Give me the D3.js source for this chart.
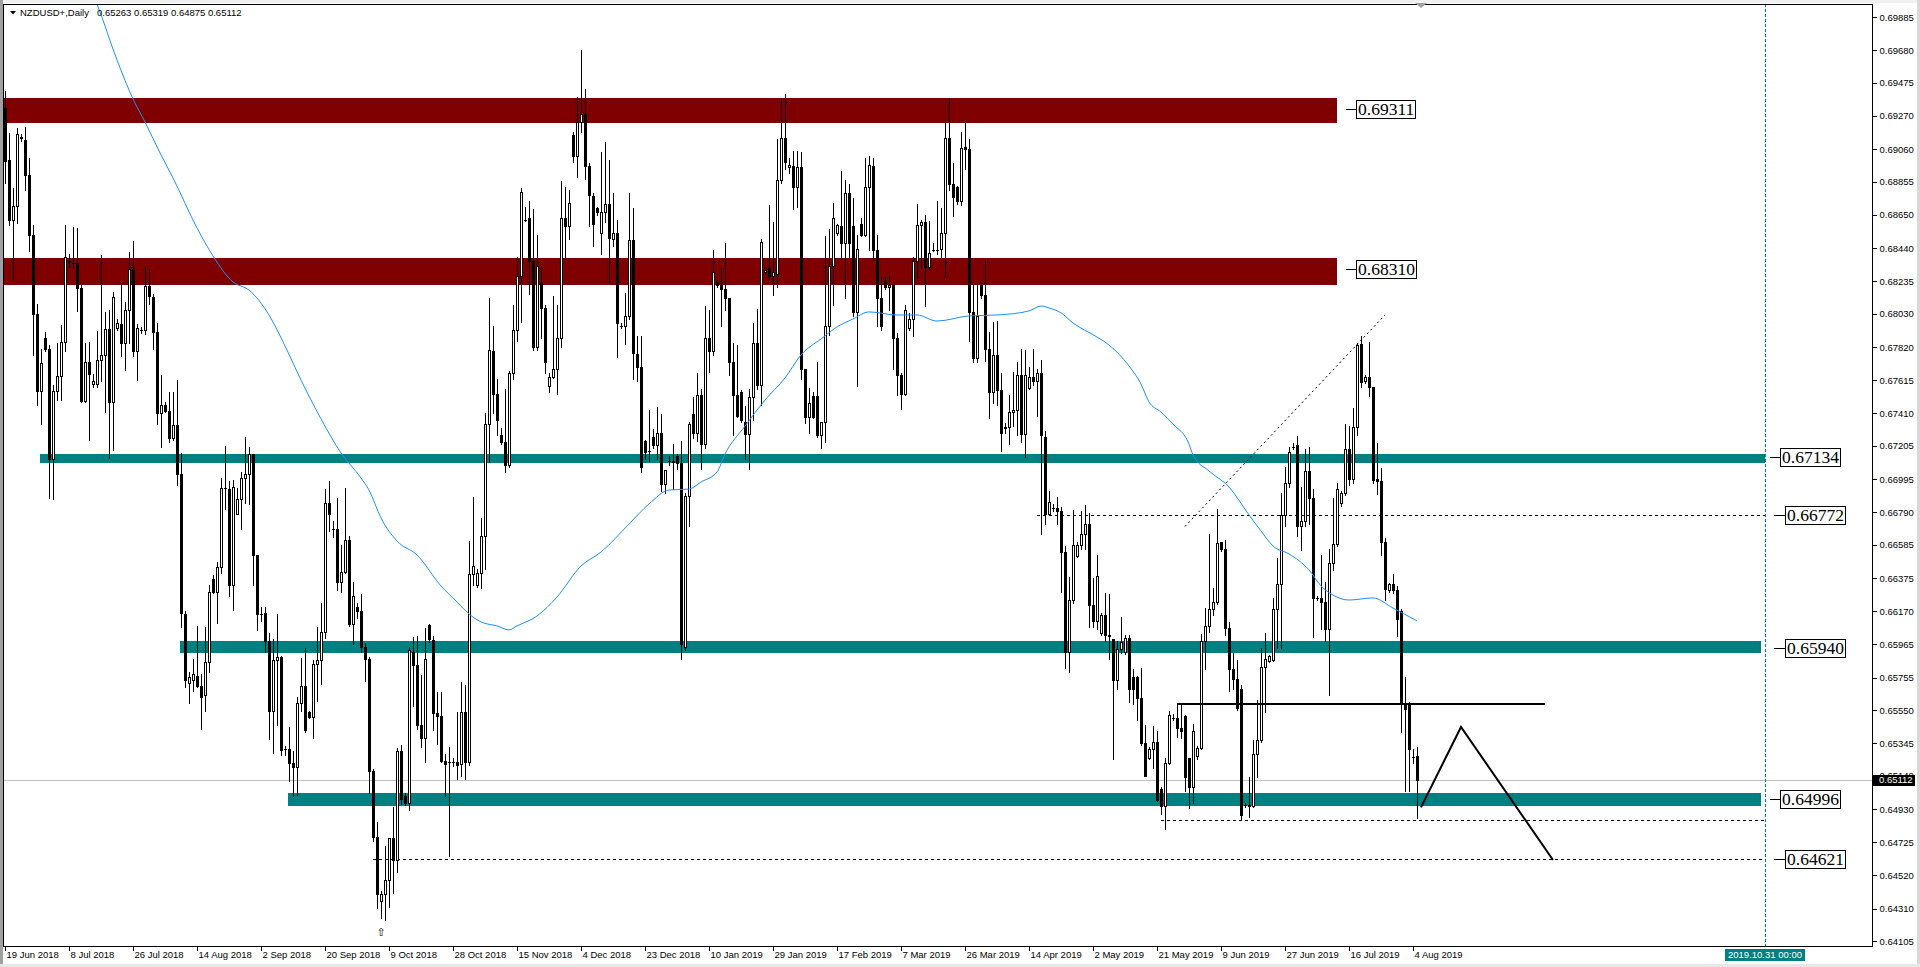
<!DOCTYPE html>
<html><head><meta charset="utf-8">
<script src="https://cdn.jsdelivr.net/npm/d3@7"></script>
<style>
html,body{margin:0;padding:0;background:#fff;overflow:hidden}
svg{display:block}
text{font-family:"Liberation Sans",Arial,sans-serif}
</style></head><body>
<svg id="chart" width="1920" height="967"></svg>
<script>
// ===== DATA =====
const symbolTitle = "NZDUSD+,Daily";
const lastOHLC = [0.65263, 0.65319, 0.64875, 0.65112];

const opens = [
0.69318,0.68993,0.68618,0.68705,0.69134,0.69120,0.68898,0.68523,0.68031,0.67547,0.67881,0.67810,
0.67119,0.67547,0.67642,0.67856,0.68360,0.68345,0.68347,0.68189,0.67487,0.67730,0.67589,0.67589,
0.67740,0.67775,0.67933,0.67477,0.67940,0.67968,0.67845,0.68056,0.68312,0.67800,0.67926,0.67926,
0.68207,0.68137,0.67916,0.67407,0.67459,0.67424,0.67256,0.67336,0.67027,0.66150,0.65722,0.65740,
0.65764,0.65704,0.65645,0.65855,0.66371,0.66291,0.66449,0.66943,0.66933,0.66336,0.66775,0.66873,
0.67003,0.67027,0.67154,0.66522,0.66150,0.66161,0.65985,0.65546,0.65862,0.65883,0.65308,0.65308,
0.65223,0.65195,0.65599,0.65704,0.65539,0.65511,0.65841,0.65862,0.66038,0.66845,0.66687,0.66687,
0.66354,0.66417,0.66617,0.66091,0.66196,0.66173,0.65945,0.65868,0.65173,0.64758,0.64359,0.64401,
0.64488,0.64752,0.64611,0.65296,0.65015,0.64969,0.65917,0.65833,0.65461,0.65376,0.66085,0.65987,
0.65531,0.65517,0.65236,0.65225,0.65225,0.65225,0.65215,0.65541,0.65225,0.66401,0.66331,0.66408,
0.66640,0.67342,0.67798,0.67531,0.67272,0.67226,0.67086,0.67658,0.67928,0.68269,0.68620,0.68630,
0.68360,0.67823,0.68226,0.68069,0.67577,0.67637,0.67682,0.67882,0.68630,0.68577,0.69146,0.69016,
0.69227,0.69280,0.68957,0.68764,0.68690,0.68535,0.68665,0.68718,0.68500,0.68535,0.67953,0.67953,
0.68016,0.68490,0.67777,0.67700,0.67237,0.67174,0.67261,0.67209,0.67286,0.66963,0.67110,0.67110,
0.67138,0.67096,0.65945,0.66893,0.67402,0.67286,0.67525,0.67216,0.67876,0.67798,0.68227,0.68209,
0.68184,0.68128,0.67728,0.67525,0.67542,0.67356,0.67279,0.67507,0.67848,0.67588,0.68290,0.68314,
0.68269,0.68279,0.68865,0.69132,0.68946,0.68957,0.68823,0.68946,0.67682,0.67384,0.67517,0.67517,
0.67272,0.67356,0.67953,0.68332,0.68535,0.68577,0.68472,0.68788,0.68577,0.68044,0.68595,0.68525,
0.68823,0.68957,0.68430,0.68128,0.68234,0.68198,0.68209,0.67882,0.67647,0.67531,0.67939,0.67998,
0.68360,0.68585,0.68606,0.68325,0.68430,0.68430,0.68437,0.68535,0.69132,0.68841,0.68823,0.68735,
0.69076,0.69062,0.68044,0.67753,0.68209,0.68149,0.67812,0.67542,0.67770,0.67553,0.67321,0.67321,
0.67419,0.67426,0.67647,0.67279,0.67567,0.67637,0.67612,0.67658,0.67261,0.66780,0.66816,0.66816,
0.66795,0.66542,0.65917,0.66243,0.66515,0.66582,0.66651,0.66713,0.66206,0.66107,0.66033,0.66144,
0.66020,0.65995,0.65741,0.65934,0.65914,0.66003,0.65761,0.65761,0.65625,0.65345,0.65254,0.65310,
0.65352,0.65056,0.64949,0.65221,0.65501,0.65501,0.65439,0.65513,0.65254,0.65073,0.65266,0.65315,
0.65983,0.66077,0.66186,0.66230,0.66601,0.66557,0.66062,0.65810,0.65748,0.65686,0.64957,0.64949,
0.64949,0.65278,0.65365,0.65822,0.65859,0.65864,0.66181,0.66342,0.66774,0.66972,0.67200,0.67207,
0.66700,0.66737,0.67046,0.66878,0.66255,0.66255,0.66230,0.66057,0.66473,0.66589,0.66844,0.66910,
0.67183,0.66997,0.67323,0.67843,0.67610,0.67635,0.67571,0.66997,0.66985,0.66606,0.66300,0.66342,
0.66300,0.66169,0.65588,0.65593,0.65261,0.65263];

const highs = [
0.69425,0.69162,0.68818,0.69190,0.69155,0.69197,0.69004,0.68583,0.68091,0.67810,0.67916,0.67835,
0.67582,0.67845,0.67961,0.68583,0.68407,0.68576,0.68565,0.68214,0.67845,0.67852,0.67652,0.67923,
0.68397,0.68039,0.68056,0.68168,0.67996,0.68221,0.68102,0.68418,0.68488,0.67968,0.67947,0.68326,
0.68312,0.68151,0.67975,0.67645,0.67477,0.67540,0.67540,0.67617,0.67161,0.66171,0.65792,0.65869,
0.66080,0.65775,0.66073,0.66336,0.66396,0.66477,0.67003,0.67203,0.66985,0.66992,0.66943,0.67038,
0.67259,0.67196,0.67154,0.66522,0.66196,0.66196,0.66031,0.65996,0.66150,0.65890,0.65329,0.65448,
0.65294,0.65634,0.65880,0.65939,0.65546,0.65862,0.66073,0.66220,0.66933,0.66985,0.66733,0.66880,
0.66582,0.66943,0.66642,0.66354,0.66220,0.66279,0.65973,0.65882,0.65180,0.64850,0.64420,0.64699,
0.64752,0.64945,0.65313,0.65331,0.65032,0.65945,0.66008,0.66015,0.65769,0.66068,0.66092,0.66015,
0.65664,0.65664,0.65278,0.65320,0.65250,0.65541,0.65727,0.65706,0.66612,0.66886,0.66436,0.66752,
0.67412,0.68128,0.67953,0.67623,0.67314,0.67560,0.67672,0.68086,0.68384,0.68816,0.68700,0.68735,
0.68683,0.68525,0.68332,0.68086,0.67658,0.68139,0.68086,0.68858,0.68823,0.68806,0.69167,0.69385,
0.69683,0.69437,0.68971,0.68788,0.68700,0.69041,0.69104,0.68992,0.68788,0.68620,0.67974,0.68163,
0.68788,0.68690,0.67893,0.67893,0.67244,0.67426,0.67307,0.67447,0.67402,0.67051,0.67138,0.67216,
0.67156,0.67237,0.66910,0.67356,0.67507,0.67658,0.67560,0.68079,0.68051,0.68430,0.68234,0.68314,
0.68472,0.68128,0.67847,0.67833,0.67553,0.67454,0.67560,0.67974,0.68058,0.68500,0.68314,0.68711,
0.68606,0.69122,0.69378,0.69402,0.69006,0.69051,0.69051,0.69041,0.67682,0.67567,0.67542,0.67728,
0.67356,0.68514,0.68560,0.68725,0.68595,0.68921,0.68865,0.68841,0.68753,0.68525,0.68630,0.69006,
0.69016,0.69006,0.68525,0.68261,0.68261,0.68269,0.68219,0.67911,0.67658,0.68086,0.68033,0.68384,
0.68718,0.68620,0.68648,0.68613,0.68472,0.68735,0.68690,0.69227,0.69378,0.68971,0.68830,0.69167,
0.69237,0.69122,0.68219,0.68209,0.68227,0.68360,0.67918,0.67981,0.67988,0.67658,0.67349,0.67525,
0.67665,0.67728,0.67812,0.67805,0.67700,0.67812,0.67682,0.67742,0.67296,0.66921,0.66840,0.66886,
0.66823,0.66577,0.66384,0.66804,0.66601,0.66794,0.66836,0.66787,0.66379,0.66522,0.66156,0.66285,
0.66275,0.65995,0.65983,0.66131,0.66020,0.66020,0.65810,0.65766,0.65815,0.65459,0.65320,0.65451,
0.65419,0.65068,0.65254,0.65543,0.65526,0.65582,0.65582,0.65518,0.65254,0.65464,0.65328,0.66028,
0.66193,0.66651,0.66317,0.66812,0.66606,0.66614,0.66102,0.65909,0.65864,0.65711,0.64969,0.65130,
0.65365,0.65612,0.65939,0.66033,0.65897,0.66255,0.66502,0.66910,0.67071,0.67200,0.67220,0.67269,
0.66948,0.67183,0.67195,0.66935,0.66268,0.66522,0.66354,0.66557,0.66878,0.66972,0.66923,0.67343,
0.67331,0.67442,0.67850,0.67892,0.67645,0.67857,0.67571,0.67220,0.67066,0.66626,0.66349,0.66404,
0.66329,0.66181,0.65761,0.65600,0.65310,0.65319];

const lows = [
0.68846,0.68583,0.68249,0.68600,0.69110,0.68804,0.68425,0.67775,0.67459,0.67344,0.67800,0.66880,
0.66870,0.67494,0.67494,0.67800,0.68326,0.68319,0.68046,0.67477,0.67477,0.67242,0.67575,0.67575,
0.67610,0.67414,0.67126,0.67179,0.67926,0.67765,0.67677,0.67845,0.67765,0.67617,0.67912,0.67905,
0.68091,0.67810,0.67344,0.67196,0.67414,0.67231,0.67238,0.66957,0.66073,0.65694,0.65599,0.65669,
0.65694,0.65434,0.65546,0.65792,0.66284,0.66098,0.66406,0.66810,0.66266,0.66178,0.66775,0.66687,
0.66845,0.66838,0.66336,0.66055,0.66108,0.65915,0.65371,0.65283,0.65458,0.65273,0.65273,0.65108,
0.65013,0.65020,0.65546,0.65413,0.65504,0.65378,0.65610,0.65715,0.66003,0.66669,0.66634,0.66301,
0.66291,0.66406,0.66080,0.65968,0.66126,0.65917,0.65734,0.65032,0.64734,0.64313,0.64250,0.64240,
0.64320,0.64408,0.64541,0.64962,0.64955,0.64927,0.65576,0.65436,0.65320,0.65225,0.65980,0.65426,
0.65341,0.65225,0.65015,0.64640,0.65201,0.65120,0.65138,0.65120,0.65208,0.66331,0.66324,0.66314,
0.66436,0.67103,0.67412,0.67272,0.67216,0.67040,0.67075,0.67623,0.67858,0.67981,0.68613,0.68156,
0.67805,0.67805,0.67876,0.67658,0.67542,0.67630,0.67531,0.67823,0.68374,0.68500,0.68981,0.68886,
0.69167,0.68876,0.68577,0.68455,0.68648,0.68402,0.68606,0.68227,0.68455,0.67763,0.67939,0.67840,
0.67998,0.67623,0.67612,0.67040,0.67121,0.67110,0.67191,0.67121,0.66921,0.66910,0.67086,0.66935,
0.67061,0.65868,0.65928,0.66700,0.67251,0.67237,0.67061,0.67191,0.67665,0.67770,0.68198,0.67953,
0.68051,0.67647,0.67272,0.67384,0.67356,0.67121,0.67061,0.67367,0.67560,0.67461,0.68279,0.68244,
0.68149,0.68198,0.68851,0.68936,0.68911,0.68683,0.68700,0.67623,0.67349,0.67286,0.67377,0.67261,
0.67191,0.67226,0.67900,0.68086,0.68525,0.68374,0.68128,0.68384,0.68016,0.67577,0.68514,0.68514,
0.68430,0.68367,0.67953,0.67928,0.68184,0.68051,0.67682,0.67525,0.67437,0.67525,0.67928,0.67893,
0.68254,0.68314,0.68079,0.68304,0.68420,0.68402,0.68384,0.68262,0.68806,0.68641,0.68718,0.68711,
0.68936,0.67858,0.67728,0.67728,0.68128,0.67735,0.67377,0.67472,0.67461,0.67174,0.67286,0.67216,
0.67331,0.67272,0.67226,0.67132,0.67560,0.67588,0.67391,0.66654,0.66717,0.66770,0.66795,0.66717,
0.66289,0.65812,0.65787,0.66220,0.66507,0.66557,0.66557,0.66070,0.66070,0.66057,0.66020,0.65983,
0.65872,0.65246,0.65686,0.65909,0.65904,0.65600,0.65588,0.65489,0.65335,0.65137,0.65246,0.65192,
0.64982,0.64900,0.64808,0.65216,0.65489,0.65385,0.65380,0.65048,0.64940,0.64969,0.65246,0.65310,
0.65810,0.66038,0.66144,0.66218,0.66547,0.66020,0.65674,0.65681,0.65550,0.64870,0.64945,0.64883,
0.64945,0.65130,0.65352,0.65538,0.65854,0.65859,0.65939,0.65939,0.66700,0.66947,0.67182,0.66638,
0.66552,0.66700,0.66713,0.66008,0.66243,0.66057,0.65983,0.65649,0.66428,0.66577,0.66829,0.66898,
0.66960,0.66972,0.67274,0.67571,0.67596,0.67516,0.66972,0.66903,0.66522,0.66243,0.66292,0.66285,
0.66013,0.65414,0.65044,0.65044,0.65220,0.64875];

const closes = [
0.68986,0.68618,0.68705,0.69155,0.69127,0.68898,0.68523,0.68031,0.67547,0.67723,0.67811,0.67119,
0.67547,0.67642,0.67856,0.68383,0.68355,0.68350,0.68189,0.67487,0.67730,0.67652,0.67610,0.67740,
0.67775,0.67933,0.67477,0.68137,0.67975,0.67845,0.68056,0.68312,0.67800,0.67940,0.67926,0.68207,
0.68144,0.67916,0.67407,0.67459,0.67424,0.67256,0.67336,0.67027,0.66161,0.65740,0.65757,0.65775,
0.65704,0.65634,0.65855,0.66291,0.66291,0.66449,0.66943,0.66940,0.66336,0.66950,0.66873,0.67003,
0.67027,0.67154,0.66522,0.66150,0.66150,0.65985,0.65546,0.65862,0.65883,0.65301,0.65308,0.65223,
0.65195,0.65599,0.65704,0.65424,0.65511,0.65841,0.65862,0.66038,0.66845,0.66775,0.66687,0.66354,
0.66417,0.66617,0.66091,0.66266,0.66171,0.65945,0.65868,0.65173,0.64758,0.64401,0.64401,0.64488,
0.64752,0.64611,0.65296,0.64998,0.64969,0.65927,0.65833,0.65461,0.65376,0.65868,0.65998,0.65531,
0.65517,0.65236,0.65215,0.65228,0.65230,0.65208,0.65541,0.65225,0.66401,0.66454,0.66408,0.66640,
0.67342,0.67805,0.67531,0.67367,0.67226,0.67086,0.67658,0.67928,0.68269,0.68795,0.68620,0.68360,
0.67823,0.68332,0.68069,0.67728,0.67637,0.67682,0.67882,0.68630,0.68577,0.68725,0.69016,0.69227,
0.69280,0.68957,0.68771,0.68595,0.68665,0.68665,0.68718,0.68507,0.68535,0.67974,0.67953,0.68016,
0.68490,0.67788,0.67700,0.67075,0.67166,0.67170,0.67209,0.67286,0.66963,0.67051,0.67108,0.67103,
0.67096,0.65962,0.66893,0.67342,0.67286,0.67525,0.67216,0.67876,0.67798,0.68290,0.68209,0.68184,
0.68128,0.67728,0.67525,0.67391,0.67367,0.67279,0.67507,0.67848,0.67588,0.68479,0.68304,0.68269,
0.68290,0.68865,0.69132,0.68981,0.68964,0.68823,0.68946,0.67682,0.67384,0.67472,0.67384,0.67272,
0.67356,0.67953,0.68332,0.68630,0.68585,0.68472,0.68788,0.68472,0.68044,0.68437,0.68525,0.68823,
0.68964,0.68430,0.68128,0.67953,0.68198,0.68209,0.67882,0.67647,0.67531,0.68051,0.67998,0.68360,
0.68585,0.68606,0.68325,0.68409,0.68430,0.68432,0.68535,0.69132,0.68841,0.68760,0.68735,0.69069,
0.69062,0.68044,0.67753,0.68016,0.68149,0.67812,0.67542,0.67770,0.67553,0.67286,0.67319,0.67419,
0.67426,0.67647,0.67279,0.67647,0.67637,0.67612,0.67658,0.67272,0.66780,0.66851,0.66814,0.66795,
0.66542,0.65917,0.66243,0.66582,0.66582,0.66651,0.66713,0.66206,0.66107,0.66391,0.66144,0.66020,
0.66013,0.65741,0.65934,0.65978,0.66003,0.65686,0.65686,0.65625,0.65345,0.65142,0.65310,0.65352,
0.64989,0.64949,0.65221,0.65518,0.65501,0.65439,0.65419,0.65130,0.65073,0.65419,0.65315,0.65983,
0.66077,0.66186,0.66230,0.66596,0.66557,0.66062,0.65810,0.65748,0.65563,0.64895,0.64955,0.64957,
0.65278,0.65365,0.65822,0.65872,0.65889,0.66181,0.66342,0.66774,0.66972,0.67165,0.67198,0.66700,
0.66737,0.67046,0.66878,0.66255,0.66253,0.66230,0.66057,0.66473,0.66589,0.66935,0.66910,0.67183,
0.66997,0.67323,0.67838,0.67603,0.67635,0.67571,0.66992,0.66985,0.66601,0.66310,0.66342,0.66300,
0.66119,0.65588,0.65560,0.65310,0.65261,0.65112];

// moving average (at sample bars)
const maBars = [16,23,28,32,35,39,42,48,52,57,61,66,70,74,79,84,89,91,94,98,103,109,113,116,119,123,126,128,133,138,144,149,156,161,166,171,174,178,180,185,190,195,199,204,208,212,216,223,228,233,241,248,256,259,261,264,267,273,276,281,284,286,289,292,296,297,301,306,311,314,317,321,326,329,332,336,342,347,353];
const maValues = [0.70340,0.69968,0.69618,0.69374,0.69230,0.69024,0.68880,0.68567,0.68392,0.68229,0.68179,0.68023,0.67829,0.67616,0.67373,0.67160,0.67003,0.66928,0.66753,0.66609,0.66522,0.66328,0.66228,0.66153,0.66103,0.66078,0.66053,0.66078,0.66140,0.66259,0.66453,0.66540,0.66715,0.66841,0.66928,0.66934,0.66978,0.67041,0.67153,0.67328,0.67491,0.67629,0.67773,0.67873,0.67948,0.67998,0.68042,0.68023,0.68023,0.67985,0.68017,0.68023,0.68048,0.68079,0.68067,0.68036,0.67973,0.67885,0.67835,0.67704,0.67591,0.67479,0.67416,0.67341,0.67216,0.67147,0.67047,0.66947,0.66772,0.66672,0.66578,0.66528,0.66428,0.66328,0.66271,0.66240,0.66253,0.66190,0.66109];

// axis ticks
const priceTicks = [0.69885,0.69680,0.69475,0.69270,0.69060,0.68855,0.68650,0.68440,0.68235,0.68030,0.67820,0.67615,0.67410,0.67205,0.66995,0.66790,0.66585,0.66375,0.66170,0.65965,0.65755,0.65550,0.65345,0.65140,0.64930,0.64725,0.64520,0.64310,0.64105];
const dateTickBars = [0,16,32,48,64,80,96,112,128,144,160,176,192,208,224,240,256,272,288,304,320,336,352];
const dateTickLabels = ["19 Jun 2018","8 Jul 2018","26 Jul 2018","14 Aug 2018","2 Sep 2018","20 Sep 2018","9 Oct 2018","28 Oct 2018","15 Nov 2018","4 Dec 2018","23 Dec 2018","10 Jan 2019","29 Jan 2019","17 Feb 2019","7 Mar 2019","26 Mar 2019","14 Apr 2019","2 May 2019","21 May 2019","9 Jun 2019","27 Jun 2019","16 Jul 2019","4 Aug 2019"];

// zones (rectangles): resistance (dark red) and support (teal)
const zoneStartBar = [0, 0, 9, 44, 71];
const zoneEndBar   = [333, 333, 440, 439, 439];
const zoneTop      = [0.69380, 0.68378, 0.67153, 0.65985, 0.65034];
const zoneBottom   = [0.69223, 0.68211, 0.67097, 0.65907, 0.64949];
const zoneType     = ["res","res","sup","sup","sup"];

// dashed horizontal levels
const dashLevel    = [0.66772, 0.64621, 0.64864];
const dashStartBar = [258, 92, 289];
const dashEndBar   = [440, 440, 440];

// price label objects
const levelLabelValues = [0.69311, 0.68310, 0.67134, 0.66772, 0.65940, 0.64996, 0.64621];
const levelLabelAnchorBar = [333, 333, 440, 440, 439, 439, 440];

// drawn lines
const breakoutLevel = 0.65587, breakoutBars = [293, 385];
const trendBars = [295, 345], trendPrices = [0.66700, 0.68023];
const projBars = [354, 364, 387], projPrices = [0.64943, 0.65446, 0.64614];
const separatorBar = 440, separatorText = "2019.10.31 00:00";
const arrowBar = 94, arrowPrice = 0.64160;

// ===== LAYOUT =====
const W = 1920, H = 967;
const P = {left: 4, top: 4, right: 1872, bottom: 946};
const COL = {res: "#800000", sup: "#008080", ma: "#1E90FF", grid: "#c0c0c0"};
// label box offsets from anchor (px): [tickStart, boxStart]
const labelOffsets = [[9,19],[9,19],[5,15],[9,20],[13,24],[9,19],[9,20]];

const x = d3.scaleLinear().domain([0, 466.75]).range([5, 1872]);
const y = d3.scaleLinear().domain([0.64076, 0.69968]).range([946, 4]);

const svg = d3.select("#chart");
svg.append("rect").attr("width", W).attr("height", H).attr("fill", "#fff");
// window frame
svg.append("rect").attr("x",0).attr("y",0).attr("width",W).attr("height",3).attr("fill","#f0f0f0");
svg.append("rect").attr("x",0).attr("y",0).attr("width",3).attr("height",H).attr("fill","#a0a0a0");
svg.append("rect").attr("x",W-3).attr("y",0).attr("width",3).attr("height",H).attr("fill","#d8d8d8");
svg.append("rect").attr("x",0).attr("y",H-3).attr("width",W).attr("height",3).attr("fill","#e8e8e8");

const defs = svg.append("defs");
defs.append("clipPath").attr("id","plotclip").append("rect")
  .attr("x", P.left).attr("y", P.top+1).attr("width", P.right-P.left).attr("height", P.bottom-P.top-1);

const g = svg.append("g").attr("clip-path","url(#plotclip)");

// zones
zoneTop.forEach((t,i)=>{
  const y0 = Math.round(y(t)), y1 = Math.round(y(zoneBottom[i]));
  g.append("rect").attr("x", Math.round(x(zoneStartBar[i]))-1).attr("y", y0)
    .attr("width", Math.round(x(zoneEndBar[i])) - Math.round(x(zoneStartBar[i])) + 1)
    .attr("height", y1-y0).attr("fill", COL[zoneType[i]]);
});

// current price line
g.append("line").attr("x1",P.left).attr("x2",P.right)
  .attr("y1", Math.round(y(lastOHLC[3]))+0.5).attr("y2", Math.round(y(lastOHLC[3]))+0.5)
  .attr("stroke", COL.grid).attr("stroke-width",1).attr("shape-rendering","crispEdges");

// dashed levels
dashLevel.forEach((v,i)=>{
  const yy = Math.round(y(v))+0.5;
  g.append("line").attr("x1", x(dashStartBar[i])).attr("x2", x(dashEndBar[i]))
    .attr("y1", yy).attr("y2", yy).attr("stroke","#000").attr("stroke-width",1)
    .attr("stroke-dasharray","3,3").attr("shape-rendering","crispEdges");
});

// candles
const cg = g.append("g").attr("shape-rendering","crispEdges");
opens.forEach((o,i)=>{
  const h = highs[i], l = lows[i], c = closes[i];
  const xs = Math.round(x(i));
  const yh = Math.round(y(h)), yl = Math.round(y(l));
  cg.append("line").attr("x1", xs+0.5).attr("x2", xs+0.5).attr("y1", yh).attr("y2", yl+1)
    .attr("stroke","#000").attr("stroke-width",1);
  const yt = Math.round(y(Math.max(o,c))), yb = Math.round(y(Math.min(o,c)));
  if (yb - yt < 1) {
    cg.append("rect").attr("x", xs-1).attr("y", yt).attr("width",3).attr("height",1).attr("fill","#000");
  } else if (c >= o) {
    cg.append("rect").attr("x", xs-0.5).attr("y", yt+0.5).attr("width",2).attr("height", yb-yt)
      .attr("fill","#fff").attr("stroke","#000").attr("stroke-width",1);
  } else {
    cg.append("rect").attr("x", xs-1).attr("y", yt).attr("width",3).attr("height", yb-yt+1).attr("fill","#000");
  }
});

// moving average
const maLine = d3.line().x(d=>x(d[0])).y(d=>y(d[1])).curve(d3.curveMonotoneX);
g.append("path").datum(maBars.map((b,i)=>[b, maValues[i]]))
  .attr("d", maLine).attr("fill","none").attr("stroke", COL.ma).attr("stroke-width",1);

// breakout line
g.append("line").attr("x1", x(breakoutBars[0])).attr("x2", x(breakoutBars[1]))
  .attr("y1", Math.round(y(breakoutLevel))).attr("y2", Math.round(y(breakoutLevel)))
  .attr("stroke","#000").attr("stroke-width",2).attr("shape-rendering","crispEdges");

// trendline (dotted)
g.append("line").attr("x1", x(trendBars[0])).attr("y1", y(trendPrices[0]))
  .attr("x2", x(trendBars[1])).attr("y2", y(trendPrices[1]))
  .attr("stroke","#000").attr("stroke-width",1).attr("stroke-dasharray","2,3");

// projection path
g.append("path").datum(projBars.map((b,i)=>[b, projPrices[i]]))
  .attr("d", d3.line().x(d=>x(d[0])).y(d=>y(d[1]))).attr("fill","none")
  .attr("stroke","#000").attr("stroke-width",2);

// arrow marker below the low
g.append("text").attr("x", x(arrowBar)).attr("y", y(arrowPrice)).attr("text-anchor","middle")
  .attr("dominant-baseline","middle").style("font-family","DejaVu Sans").style("font-size","11px")
  .attr("fill","#000").text("\u21E7");

// separator vertical line
g.append("line").attr("x1", Math.round(x(separatorBar))+0.5).attr("x2", Math.round(x(separatorBar))+0.5)
  .attr("y1", P.top).attr("y2", P.bottom).attr("stroke", COL.sup).attr("stroke-width",1)
  .attr("stroke-dasharray","3,2").attr("shape-rendering","crispEdges");

// level label objects
levelLabelValues.forEach((v,i)=>{
  const ax = Math.round(x(levelLabelAnchorBar[i]));
  const yy = Math.round(y(v));
  const off = labelOffsets[i];
  svg.append("line").attr("x1", ax+off[0]).attr("x2", ax+off[1]).attr("y1", yy+0.5).attr("y2", yy+0.5)
    .attr("stroke","#000").attr("stroke-width",1).attr("shape-rendering","crispEdges");
  const t = svg.append("text").attr("x", ax+off[1]+2).attr("y", yy+6)
    .style("font-family","'Liberation Serif','Times New Roman',serif").style("font-size","17.5px")
    .attr("fill","#000").text(v.toFixed(5));
  const bb = t.node().getBBox();
  svg.insert("rect", () => t.node()).attr("x", ax+off[1]+0.5).attr("y", yy-8.5)
    .attr("width", Math.round(bb.width)+3).attr("height", 18)
    .attr("fill","#fff").attr("stroke","#000").attr("stroke-width",1).attr("shape-rendering","crispEdges");
});

// plot frame
svg.append("line").attr("x1",3).attr("x2",P.right).attr("y1",4.5).attr("y2",4.5).attr("stroke","#000").attr("shape-rendering","crispEdges");
svg.append("line").attr("x1",3.5).attr("x2",3.5).attr("y1",4).attr("y2",P.bottom).attr("stroke","#000").attr("shape-rendering","crispEdges");

// chart-shift marker
svg.append("path").attr("d","M1415,3 L1427,3 L1421,8 Z").attr("fill","#a0a0a0");

// right price axis
const yAxis = d3.axisRight(y).tickValues(priceTicks).tickFormat(d3.format(".5f")).tickSize(4).tickPadding(3);
const ya = svg.append("g").attr("transform", `translate(${P.right+0.5},0)`).call(yAxis);
ya.select(".domain").remove();
ya.selectAll(".tick line").attr("stroke","#000").attr("shape-rendering","crispEdges");
ya.selectAll(".tick text").attr("fill","#000").style("font-family","'Liberation Sans',Arial,sans-serif").style("font-size","9.5px");
svg.append("line").attr("x1",P.right+0.5).attr("x2",P.right+0.5).attr("y1",4).attr("y2",P.bottom+1)
  .attr("stroke","#000").attr("shape-rendering","crispEdges");

// bottom time axis
const xAxis = d3.axisBottom(x).tickValues(dateTickBars).tickFormat((d,i)=>dateTickLabels[i]).tickSize(4).tickPadding(1);
const xa = svg.append("g").attr("transform", `translate(0,${P.bottom+0.5})`).call(xAxis);
xa.select(".domain").remove();
xa.selectAll(".tick line").attr("stroke","#000").attr("shape-rendering","crispEdges");
xa.selectAll(".tick text").attr("fill","#000").attr("text-anchor","start").attr("dx","1")
  .style("font-family","'Liberation Sans',Arial,sans-serif").style("font-size","9.5px");
svg.append("line").attr("x1",3).attr("x2",P.right+1).attr("y1",P.bottom+0.5).attr("y2",P.bottom+0.5)
  .attr("stroke","#000").attr("shape-rendering","crispEdges");

// current price box on axis
const yLast = Math.round(y(lastOHLC[3]));
svg.append("rect").attr("x", P.right+1).attr("y", yLast-5).attr("width", 42).attr("height", 11).attr("fill","#000");
svg.append("text").attr("x", P.right+7).attr("y", yLast+0.5).attr("dominant-baseline","middle")
  .attr("fill","#fff").style("font-size","9.5px").text(lastOHLC[3].toFixed(5));

// separator time label
const sx = Math.round(x(separatorBar));
svg.append("rect").attr("x", sx-40).attr("y", P.bottom+3).attr("width", 80).attr("height", 12).attr("fill", COL.sup);
svg.append("text").attr("x", sx).attr("y", P.bottom+9.5).attr("text-anchor","middle").attr("dominant-baseline","middle")
  .attr("fill","#fff").style("font-size","9.5px").text(separatorText);

// header
svg.append("path").attr("d","M10,11 L16,11 L13,14.5 Z").attr("fill","#000");
svg.append("text").attr("x",20).attr("y",16).attr("fill","#000").style("font-size","9.5px").text(symbolTitle);
svg.append("text").attr("x",97).attr("y",16).attr("fill","#000").style("font-size","9.5px")
  .text(lastOHLC.map(v=>v.toFixed(5)).join(" "));
</script>
</body></html>
